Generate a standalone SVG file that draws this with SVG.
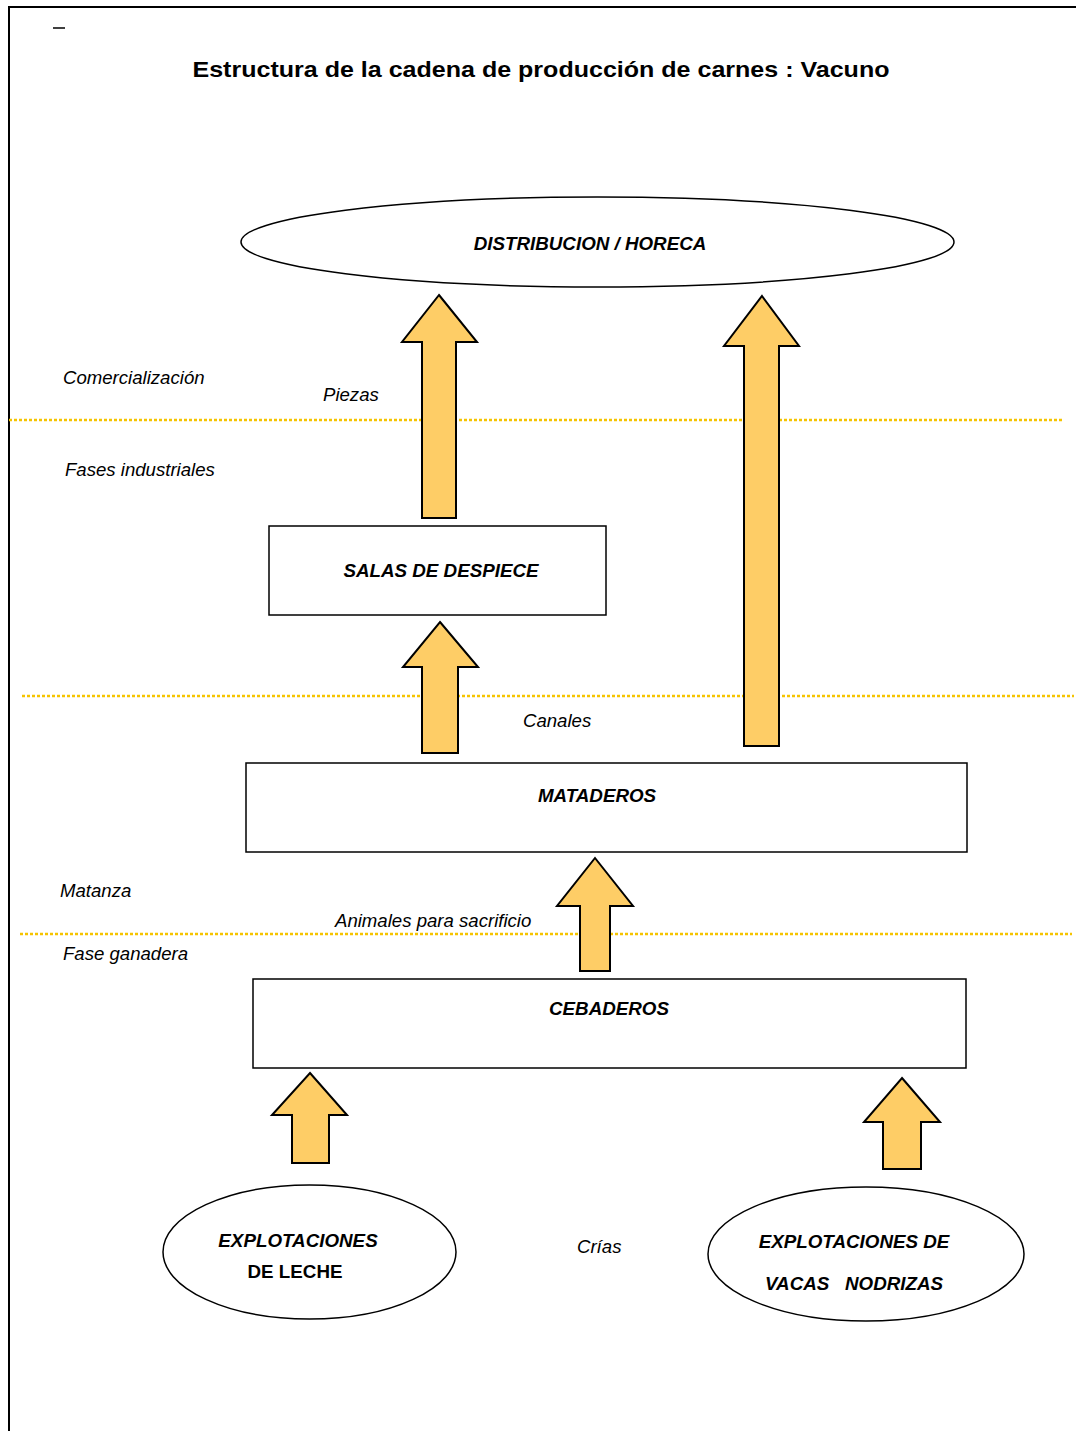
<svg xmlns="http://www.w3.org/2000/svg" width="1076" height="1431" viewBox="0 0 1076 1431">
<style>
.lbl{font-family:"Liberation Sans",Arial,sans-serif;font-size:18.6px;font-style:italic;fill:#000}
.node{font-family:"Liberation Sans",Arial,sans-serif;font-size:18.8px;font-weight:bold;font-style:italic;fill:#000;text-anchor:middle}
.shape{fill:#fff;stroke:#000;stroke-width:1.5}
.arrow{fill:#fecd66;stroke:#000;stroke-width:2;stroke-linejoin:miter}
.sep{stroke:#f5c400;stroke-width:2.5;stroke-dasharray:3 2;fill:none}
</style>
<rect width="1076" height="1431" fill="#fff"/>
<g id="frame">
<path d="M9,1431 V7 H1076" fill="none" stroke="#000" stroke-width="2"/>
<line x1="53" y1="28" x2="65" y2="28" stroke="#000" stroke-width="1.5"/>
</g>
<text x="541" y="77" font-family="'Liberation Sans',Arial,sans-serif" font-size="22" font-weight="bold" text-anchor="middle" textLength="697" lengthAdjust="spacingAndGlyphs">Estructura de la cadena de producción de carnes : Vacuno</text>
<g id="separators">
<line class="sep" x1="9" y1="420" x2="1062" y2="420"/>
<line class="sep" x1="22" y1="696" x2="1074" y2="696"/>
<line class="sep" x1="20" y1="934" x2="1072" y2="934"/>
</g>
<g id="phase-labels">
<text class="lbl" x="63" y="384">Comercialización</text>
<text class="lbl" x="65" y="476">Fases industriales</text>
<text class="lbl" x="60" y="897">Matanza</text>
<text class="lbl" x="63" y="960">Fase ganadera</text>
</g>
<g id="distribucion">
<ellipse class="shape" cx="597.5" cy="242" rx="356.5" ry="45"/>
<text class="node" x="590" y="250">DISTRIBUCION / HORECA</text>
</g>
<g id="salas">
<rect class="shape" x="269" y="526" width="337" height="89"/>
<text class="node" x="441" y="577">SALAS DE DESPIECE</text>
</g>
<g id="mataderos">
<rect class="shape" x="246" y="763" width="721" height="89"/>
<text class="node" x="597" y="802">MATADEROS</text>
</g>
<g id="cebaderos">
<rect class="shape" x="253" y="979" width="713" height="89"/>
<text class="node" x="609" y="1015">CEBADEROS</text>
</g>
<g id="leche">
<ellipse class="shape" cx="309.5" cy="1252" rx="146.5" ry="67"/>
<text class="node" x="298" y="1247">EXPLOTACIONES</text>
<text class="node" x="295" y="1278" style="font-style:normal">DE LECHE</text>
</g>
<g id="nodrizas">
<ellipse class="shape" cx="866" cy="1254" rx="158" ry="67"/>
<text class="node" x="854" y="1248">EXPLOTACIONES DE</text>
<text class="node" x="854" y="1290" xml:space="preserve">VACAS   NODRIZAS</text>
</g>
<g id="connectors">
<polygon class="arrow" points="439,295 477,342 456,342 456,518 422,518 422,342 402,342"/>
<polygon class="arrow" points="762,296 799,346 779,346 779,746 744,746 744,346 724,346"/>
<polygon class="arrow" points="440,622 478,667 458,667 458,753 422,753 422,667 403,667"/>
<polygon class="arrow" points="595,858 633,906 610,906 610,971 580,971 580,906 557,906"/>
<polygon class="arrow" points="310,1073 347,1115 329,1115 329,1163 292,1163 292,1115 272,1115"/>
<polygon class="arrow" points="902,1078 940,1122 921,1122 921,1169 883,1169 883,1122 864,1122"/>
<text class="lbl" x="323" y="401">Piezas</text>
<text class="lbl" x="523" y="727">Canales</text>
<text class="lbl" x="335" y="927">Animales para sacrificio</text>
<text class="lbl" x="577" y="1253">Crías</text>
</g>
</svg>
